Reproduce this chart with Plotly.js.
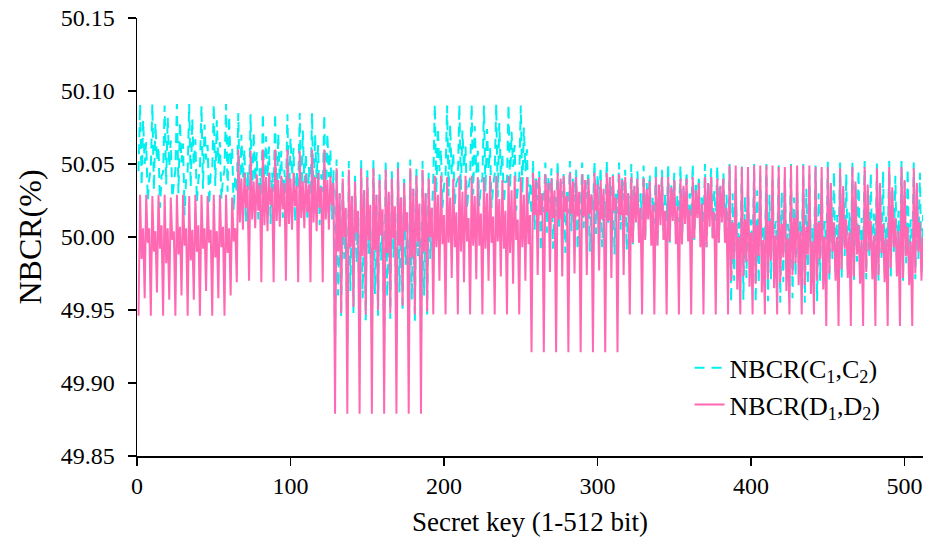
<!DOCTYPE html>
<html>
<head>
<meta charset="utf-8">
<script src="https://cdn.plot.ly/plotly-3.0.1.min.js"></script>
<style>html,body{margin:0;padding:0;background:#fff;}#chart{width:934px;height:540px;}</style>
</head>
<body>
<div id="chart"></div>
<script>
// NBCR(C1,C2) per 64-bit block
var c1 = [50.045,50.091,50.035,50.080,50.050,50.065,50.025,50.040,
 50.047,50.091,50.032,50.078,50.052,50.062,50.020,50.042,
 50.044,50.090,50.036,50.082,50.048,50.066,50.027,50.038,
 50.046,50.091,50.030,50.079,50.051,50.064,50.015,50.041,
 50.045,50.091,50.034,50.081,50.049,50.067,50.024,50.039,
 50.047,50.090,50.033,50.077,50.053,50.063,50.022,50.043,
 50.044,50.091,50.035,50.080,50.050,50.065,50.026,50.040,
 50.046,50.091,50.031,50.083,50.048,50.061,50.018,50.042];
var c2 = [50.030,50.085,50.020,50.070,50.040,50.060,50.010,50.045,
 50.032,50.084,50.018,50.072,50.038,50.058,50.012,50.047,
 50.029,50.085,50.022,50.069,50.041,50.062,50.009,50.044,
 50.031,50.085,50.019,50.071,50.039,50.059,50.013,50.046,
 50.030,50.084,50.021,50.068,50.042,50.061,50.010,50.045,
 50.033,50.085,50.017,50.073,50.037,50.057,50.011,50.048,
 50.028,50.085,50.023,50.070,50.040,50.063,50.008,50.043,
 50.031,50.084,50.020,50.071,50.041,50.060,50.012,50.046];
var c3 = [49.925,50.053,49.960,50.030,49.945,50.045,49.985,50.010,
 49.927,50.052,49.963,50.028,49.948,50.043,49.982,50.012,
 49.925,50.053,49.958,50.032,49.943,50.046,49.988,50.008,
 49.926,50.053,49.961,50.029,49.946,50.044,49.984,50.011,
 49.925,50.052,49.959,50.031,49.944,50.045,49.986,50.009,
 49.928,50.053,49.962,50.027,49.949,50.042,49.981,50.013,
 49.925,50.053,49.957,50.033,49.942,50.047,49.987,50.010,
 49.926,50.052,49.960,50.030,49.947,50.044,49.985,50.012];
var c4 = [50.040,50.091,50.030,50.075,50.045,50.060,50.020,50.035,
 50.042,50.090,50.028,50.077,50.043,50.058,50.022,50.037,
 50.039,50.091,50.032,50.073,50.047,50.062,50.019,50.034,
 50.041,50.091,50.029,50.076,50.044,50.059,50.021,50.036,
 50.040,50.090,50.031,50.074,50.046,50.061,50.020,50.035,
 50.043,50.091,50.027,50.078,50.042,50.057,50.023,50.038,
 50.038,50.091,50.033,50.072,50.048,50.063,50.018,50.033,
 50.041,50.090,50.030,50.075,50.045,50.060,50.021,50.036];
var c5 = [50.015,50.052,50.005,50.040,50.025,50.045,49.990,50.030,
 50.017,50.051,50.003,50.042,50.023,50.047,49.992,50.028,
 50.014,50.052,50.007,50.038,50.027,50.044,49.989,50.031,
 50.016,50.052,50.004,50.041,50.024,50.046,49.991,50.029,
 50.015,50.051,50.006,50.039,50.026,50.045,49.990,50.030,
 50.018,50.052,50.002,50.043,50.022,50.048,49.993,50.027,
 50.013,50.052,50.008,50.037,50.028,50.043,49.988,50.032,
 50.016,50.051,50.005,50.040,50.025,50.046,49.991,50.030];
var c6 = [50.010,50.050,49.995,50.035,50.020,50.045,50.000,50.030,
 50.012,50.049,49.997,50.037,50.018,50.043,50.002,50.028,
 50.009,50.050,49.994,50.033,50.022,50.046,49.999,50.031,
 50.011,50.050,49.996,50.036,50.019,50.044,50.001,50.029,
 50.010,50.049,49.995,50.034,50.021,50.045,50.000,50.030,
 50.013,50.050,49.998,50.038,50.017,50.042,50.003,50.027,
 50.008,50.050,49.993,50.032,50.023,50.047,49.998,50.032,
 50.011,50.049,49.996,50.035,50.020,50.044,50.001,50.029];
var c7 = [49.990,50.050,49.955,50.030,49.970,50.040,49.985,50.010,
 49.992,50.049,49.957,50.028,49.972,50.038,49.983,50.012,
 49.989,50.050,49.955,50.032,49.968,50.042,49.987,50.008,
 49.991,50.050,49.956,50.029,49.971,50.039,49.984,50.011,
 49.990,50.049,49.955,50.031,49.969,50.041,49.986,50.009,
 49.993,50.050,49.958,50.027,49.973,50.037,49.982,50.013,
 49.988,50.050,49.955,50.033,49.967,50.043,49.988,50.007,
 49.991,50.049,49.956,50.030,49.970,50.040,49.985,50.011];
var c8 = [49.990,50.052,49.970,50.035,49.985,50.045,49.975,50.015,
 49.992,50.051,49.972,50.033,49.987,50.043,49.977,50.017,
 49.989,50.052,49.970,50.037,49.983,50.046,49.974,50.013,
 49.991,50.052,49.971,50.034,49.986,50.044,49.976,50.016,
 49.990,50.051,49.970,50.036,49.984,50.045,49.975,50.014,
 49.993,50.052,49.973,50.032,49.988,50.042,49.978,50.018,
 49.988,50.052,49.970,50.038,49.982,50.047,49.973,50.012,
 49.991,50.051,49.971,50.035,49.985,50.044,49.976,50.015];

// NBCR(D1,D2) per 64-bit block
var d1 = [49.946,50.029,49.985,50.006,49.958,50.029,49.996,50.006,
 49.946,50.028,49.990,50.004,49.962,50.029,49.992,50.008,
 49.946,50.029,49.982,50.006,49.957,50.027,49.998,50.004,
 49.946,50.029,49.988,50.007,49.960,50.029,49.994,50.006,
 49.946,50.028,49.984,50.005,49.957,50.029,49.990,50.008,
 49.946,50.029,49.992,50.006,49.963,50.028,49.996,50.005,
 49.946,50.029,49.986,50.004,49.958,50.029,49.993,50.007,
 49.946,50.029,49.989,50.006,49.960,50.027,49.997,50.006];
var d2 = [49.969,50.060,50.010,50.040,50.005,50.044,50.020,50.035,
 49.970,50.059,50.012,50.038,50.006,50.043,50.018,50.036,
 49.969,50.060,50.008,50.041,50.004,50.044,50.022,50.034,
 49.969,50.060,50.011,50.039,50.007,50.042,50.019,50.037,
 49.970,50.060,50.009,50.040,50.005,50.044,50.021,50.035,
 49.969,50.059,50.013,50.038,50.006,50.043,50.017,50.036,
 49.969,50.060,50.010,50.041,50.004,50.044,50.020,50.034,
 49.969,50.060,50.012,50.039,50.005,50.042,50.022,50.037];
var d3 = [49.879,50.047,49.990,50.030,49.948,50.040,50.000,50.020,
 49.879,50.046,49.993,50.028,49.952,50.038,50.003,50.018,
 49.879,50.047,49.987,50.032,49.947,50.041,49.998,50.022,
 49.879,50.047,49.991,50.029,49.950,50.039,50.001,50.019,
 49.879,50.046,49.989,50.031,49.948,50.040,49.999,50.021,
 49.879,50.047,49.994,50.027,49.953,50.037,50.004,50.017,
 49.879,50.047,49.986,50.033,49.947,50.042,49.997,50.023,
 49.879,50.046,49.990,50.030,49.949,50.040,50.000,50.020];
var d4 = [49.947,50.042,49.993,50.029,49.970,50.042,49.995,50.015,
 49.947,50.041,49.996,50.027,49.972,50.040,49.993,50.017,
 49.947,50.042,49.990,50.031,49.969,50.042,49.997,50.013,
 49.947,50.042,49.994,50.028,49.971,50.041,49.994,50.016,
 49.947,50.041,49.992,50.030,49.970,50.042,49.996,50.014,
 49.947,50.042,49.997,50.026,49.973,50.039,49.992,50.018,
 49.947,50.042,49.989,50.032,49.968,50.042,49.998,50.012,
 49.947,50.041,49.993,50.029,49.970,50.041,49.995,50.015];
var d5 = [49.921,50.044,50.015,50.039,49.974,50.041,50.015,50.030,
 49.921,50.043,50.017,50.037,49.976,50.040,50.013,50.032,
 49.921,50.044,50.012,50.040,49.973,50.042,50.017,50.028,
 49.921,50.044,50.016,50.038,49.975,50.041,50.014,50.031,
 49.921,50.043,50.014,50.039,49.974,50.040,50.016,50.029,
 49.921,50.044,50.018,50.036,49.977,50.039,50.012,50.033,
 49.921,50.044,50.011,50.041,49.972,50.042,50.018,50.027,
 49.921,50.043,50.015,50.039,49.974,50.041,50.015,50.030];
var d6 = [49.947,50.041,49.996,50.035,50.010,50.040,49.996,50.020,
 49.947,50.040,49.998,50.033,50.012,50.038,49.994,50.022,
 49.947,50.041,49.994,50.036,50.008,50.041,49.998,50.018,
 49.947,50.041,49.997,50.034,50.011,50.039,49.995,50.021,
 49.947,50.040,49.995,50.035,50.009,50.040,49.997,50.019,
 49.947,50.041,49.999,50.032,50.013,50.037,49.993,50.023,
 49.947,50.041,49.993,50.037,50.007,50.041,49.999,50.017,
 49.947,50.040,49.996,50.035,50.010,50.040,49.996,50.020];
var d7 = [49.947,50.049,49.970,50.010,49.985,50.049,49.964,50.000,
 49.947,50.048,49.973,50.012,49.983,50.048,49.966,50.003,
 49.947,50.049,49.968,50.008,49.987,50.049,49.962,49.998,
 49.947,50.049,49.971,50.011,49.984,50.049,49.965,50.001,
 49.947,50.048,49.969,50.009,49.986,50.048,49.963,49.999,
 49.947,50.049,49.974,50.013,49.982,50.049,49.967,50.004,
 49.947,50.049,49.967,50.007,49.988,50.049,49.961,49.997,
 49.947,50.048,49.970,50.010,49.985,50.048,49.964,50.000];
var d8 = [49.939,50.048,49.975,50.037,49.990,50.010,49.970,50.000,
 49.939,50.047,49.978,50.035,49.992,50.012,49.972,50.003,
 49.939,50.048,49.973,50.038,49.988,50.008,49.968,49.998,
 49.939,50.048,49.976,50.036,49.991,50.011,49.971,50.001,
 49.939,50.047,49.974,50.037,49.989,50.009,49.969,49.999,
 49.939,50.048,49.979,50.034,49.993,50.013,49.973,50.004,
 49.939,50.048,49.972,50.039,49.987,50.007,49.967,49.997,
 49.939,50.047,49.975,50.037,49.990,50.010,49.970,50.000];

var seriesC = [].concat(c1, c2, c3, c4, c5, c6, c7, c8);
var seriesD = [].concat(d1, d2, d3, d4, d5, d6, d7, d8);
var bits = seriesC.map(function (v, i) { return i + 1; });

var FONT = 'Liberation Serif, serif';

var traces = [
  {
    x: bits, y: seriesC, type: 'scatter', mode: 'lines',
    name: 'NBCR(C<sub>1</sub>,C<sub>2</sub>)',
    line: { color: 'rgb(0,240,240)', width: 2, dash: '10px,7px' }
  },
  {
    x: bits, y: seriesD, type: 'scatter', mode: 'lines',
    name: 'NBCR(D<sub>1</sub>,D<sub>2</sub>)',
    line: { color: '#FF69B4', width: 2 }
  }
];

function axisBase() {
  return {
    showgrid: false, zeroline: false, showline: true,
    linecolor: '#000', linewidth: 1.5,
    ticks: 'outside', ticklen: 8, tickwidth: 1.5, tickcolor: '#000',
    tickfont: { family: FONT, size: 24, color: '#000' }
  };
}

var layout = {
  width: 934, height: 540,
  margin: { l: 137, r: 11, t: 18, b: 84 },
  paper_bgcolor: '#fff', plot_bgcolor: '#fff',
  font: { family: FONT, color: '#000' },
  showlegend: true,
  legend: {
    x: 0.703, y: 0.255, xanchor: 'left', yanchor: 'top',
    bgcolor: 'rgba(0,0,0,0)',
    font: { family: FONT, size: 26, color: '#000' },
    tracegroupgap: 0
  },
  xaxis: Object.assign(axisBase(), {
    range: [0, 512], tickvals: [0, 100, 200, 300, 400, 500],
    title: { text: 'Secret key (1-512 bit)', font: { family: FONT, size: 27, color: '#000' }, standoff: 14 }
  }),
  yaxis: Object.assign(axisBase(), {
    range: [49.85, 50.15], dtick: 0.05, tick0: 49.85, tickformat: '.2f',
    ticklabelstandoff: 8,
    title: { text: 'NBCR(%)', font: { family: FONT, size: 32, color: '#000' }, standoff: 9 }
  })
};

Plotly.newPlot('chart', traces, layout, { staticPlot: true, displayModeBar: false });
</script>
</body>
</html>
